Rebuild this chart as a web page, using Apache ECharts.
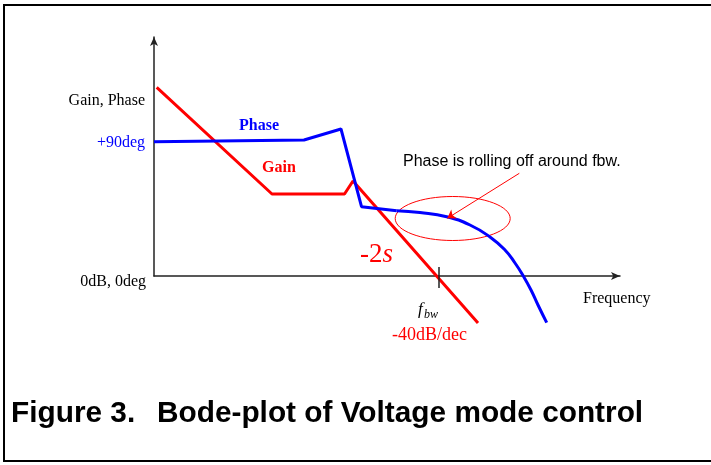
<!DOCTYPE html>
<html>
<head>
<meta charset="utf-8">
<script src="https://cdn.jsdelivr.net/npm/echarts@6/dist/echarts.min.js"></script>
<style>
html, body { margin: 0; padding: 0; background: #fff; }
#bode { width: 711px; height: 465px; }
</style>
</head>
<body>
<div id="bode"></div>
<script>
// points are offsets from the plot origin (x right, y up)
var gainPts = [[2.7, 188.7], [118, 82], [190.5, 82], [199, 95], [324, -47]];
var phasePts = [[0, 134.3], [150, 136], [187, 147], [207.5, 69.3], [242.7, 65.3]];
var phaseRollPts = [[242.7, 65.3], [266, 63.5], [292.7, 59.3], [316, 51], [336, 39], [351, 26], [361, 13], [369.3, 0], [377, -14], [384, -29], [392.7, -46.7]];
var fbwTick = [[285, 9], [285, -12]];
var noteArrow = [[365.3, 102.7], [293.3, 57.7]];
var axisTexts = ['Gain, Phase', '+90deg', '0dB, 0deg', 'Frequency'];
var noteText = 'Phase is rolling off around fbw.';
var captionNum = 'Figure 3.';
var captionText = 'Bode-plot of Voltage mode control';

var RED = '#ff0000', BLUE = '#0000ff', INK = '#222';
var serif = 'Liberation Serif', sans = 'Liberation Sans';

var bode = echarts.init(document.getElementById('bode'));
bode.setOption({
    animation: false,
    grid: { left: 154, right: 91, top: 37, bottom: 189 },
    xAxis: {
        type: 'value', min: 0, max: 466,
        splitLine: { show: false }, axisTick: { show: false }, axisLabel: { show: false },
        axisLine: { show: true, symbol: ['none', 'arrow'], symbolSize: [6, 9], lineStyle: { color: INK, width: 1.5 } }
    },
    yAxis: {
        type: 'value', min: 0, max: 239,
        splitLine: { show: false }, axisTick: { show: false }, axisLabel: { show: false },
        axisLine: { show: true, symbol: ['none', 'arrow'], symbolSize: [6, 9], lineStyle: { color: INK, width: 1.5 } }
    },
    series: [{
        name: 'Gain',
        type: 'line',
        clip: false,
        silent: true,
        showSymbol: false,
        data: gainPts,
        lineStyle: { color: RED, width: 3 },
        markLine: {
            silent: true,
            symbol: ['none', 'arrow'],
            symbolSize: 8,
            label: { show: false },
            lineStyle: { color: RED, width: 1, type: 'solid' },
            data: [[{ coord: noteArrow[0] }, { coord: noteArrow[1] }]]
        }
    }, {
        name: 'Phase',
        type: 'line',
        clip: false,
        silent: true,
        showSymbol: false,
        data: phasePts,
        lineStyle: { color: BLUE, width: 3 }
    }, {
        name: 'Phase roll-off',
        type: 'line',
        clip: false,
        silent: true,
        showSymbol: false,
        smooth: 0.5,
        data: phaseRollPts,
        lineStyle: { color: BLUE, width: 3 }
    }, {
        name: 'fbw tick',
        type: 'line',
        clip: false,
        silent: true,
        showSymbol: false,
        data: fbwTick,
        lineStyle: { color: INK, width: 1.5 }
    }],
    graphic: [
        // frame round the figure (runs off the right edge)
        { type: 'rect', shape: { x: 4, y: 5, width: 740, height: 456 }, style: { fill: 'none', stroke: '#000', lineWidth: 2 }, silent: true },
        { type: 'ellipse', shape: { cx: 452.7, cy: 218.5, rx: 57.5, ry: 22 }, style: { fill: 'none', stroke: RED, lineWidth: 1 }, silent: true },
        { type: 'text', x: 145, y: 101, style: { text: axisTexts[0], font: '16px "' + serif + '"', fill: '#000', align: 'right', verticalAlign: 'middle' } },
        { type: 'text', x: 145, y: 143, style: { text: axisTexts[1], font: '16px "' + serif + '"', fill: BLUE, align: 'right', verticalAlign: 'middle' } },
        { type: 'text', x: 146, y: 282, style: { text: axisTexts[2], font: '16px "' + serif + '"', fill: '#000', align: 'right', verticalAlign: 'middle' } },
        { type: 'text', x: 583, y: 299, style: { text: axisTexts[3], font: '16px "' + serif + '"', fill: '#000', align: 'left', verticalAlign: 'middle' } },
        { type: 'text', x: 259, y: 126, style: { text: 'Phase', font: 'bold 16px "' + serif + '"', fill: BLUE, align: 'center', verticalAlign: 'middle' } },
        { type: 'text', x: 279, y: 168, style: { text: 'Gain', font: 'bold 16px "' + serif + '"', fill: RED, align: 'center', verticalAlign: 'middle' } },
        { type: 'text', x: 360, y: 255, style: { text: '{n|-2}{i|s}', fill: RED, align: 'left', verticalAlign: 'middle',
            rich: { n: { fontFamily: serif, fontSize: 27, fill: RED }, i: { fontFamily: serif, fontSize: 27, fontStyle: 'italic', fill: RED } } } },
        { type: 'text', x: 418, y: 310, style: { text: 'f', font: 'italic 17px "' + serif + '"', fill: '#000', align: 'left', verticalAlign: 'middle' } },
        { type: 'text', x: 424, y: 315, style: { text: 'bw', font: 'italic 12px "' + serif + '"', fill: '#000', align: 'left', verticalAlign: 'middle' } },
        { type: 'text', x: 392, y: 335, style: { text: '-40dB/dec', font: '18px "' + serif + '"', fill: RED, align: 'left', verticalAlign: 'middle' } },
        { type: 'text', x: 403, y: 162, style: { text: noteText, font: '16px "' + sans + '"', fill: '#000', align: 'left', verticalAlign: 'middle' } },
        { type: 'text', x: 11, y: 414, style: { text: captionNum, font: 'bold 29.8px "' + sans + '"', fill: '#000', align: 'left', verticalAlign: 'middle' } },
        { type: 'text', x: 157, y: 414, style: { text: captionText, font: 'bold 29.8px "' + sans + '"', fill: '#000', align: 'left', verticalAlign: 'middle' } }
    ]
});
</script>
</body>
</html>
